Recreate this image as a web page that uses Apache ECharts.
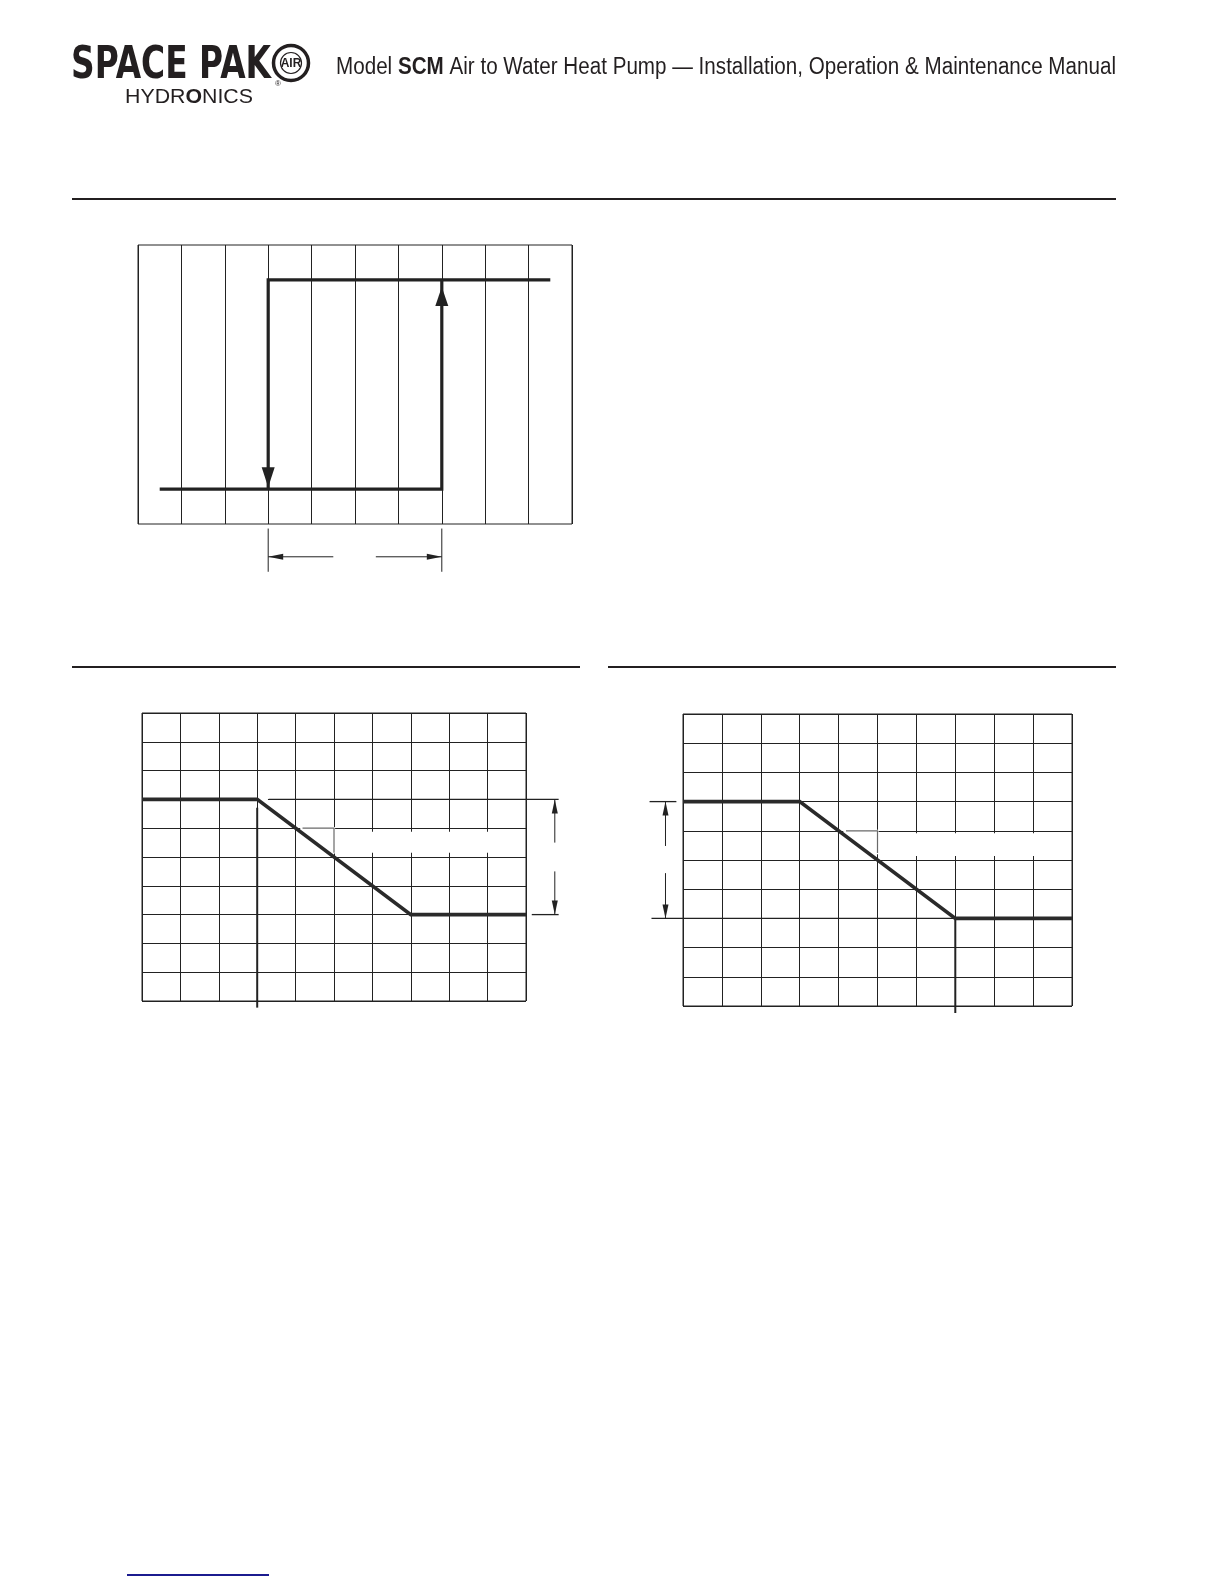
<!DOCTYPE html>
<html><head><meta charset="utf-8">
<script src="https://cdn.jsdelivr.net/npm/echarts@6/dist/echarts.min.js"></script>
<style>html,body{margin:0;padding:0;background:#fff}#c{width:1224px;height:1584px}</style>
</head><body><div id="c"></div>
<script>
// ---------- data ----------
const gridTicks = [0, 1, 2, 3, 4, 5, 6, 7, 8, 9, 10];
const titleLead = 'Model ';
const titleBold = 'SCM';
const titleRest = ' Air to Water Heat Pump \u2014 Installation, Operation & Maintenance Manual';
const logoMain = 'SPACE PAK';
const logoSubA = 'HYDR';
const logoSubB = 'O';
const logoSubC = 'NICS';
const logoBadge = 'AIR';

// hysteresis diagram (x 0..10, y 0..8)
const hystLoopDown = [[9.5, 7], [3, 7], [3, 1]];
const hystLoopUp = [[0.5, 1], [7, 1], [7, 7]];
const hystDimLeft = [[3, -0.13], [3, -1.37]];
const hystDimRight = [[7, -0.13], [7, -1.37]];
const hystArrowLeft = [[4.5, -0.94], [3, -0.94]];
const hystArrowRight = [[5.48, -0.94], [7, -0.94]];

// left slope diagram (x 0..10, y 0..10)
const leftCurve = [[0, 7], [3, 7], [7, 3], [10, 3]];
const leftRefTop = [[3.3, 7], [10.85, 7]];
const leftRefBottom = [[10.15, 3], [10.85, 3]];
const leftDimUp = [[10.75, 5.5], [10.75, 7]];
const leftDimDown = [[10.75, 4.5], [10.75, 3]];
const leftMarker = [[3, 6.71], [3, -0.23]];
const leftSlope = [[4.18, 6], [5, 6], [5, 5.15]];
const leftBand = [[5.3, 5.88], [9.8, 5.15]];

// right slope diagram (x 0..10, y 0..10)
const rightCurve = [[0, 7], [3, 7], [7, 3], [10, 3]];
const rightRefTop = [[-0.86, 7], [-0.17, 7]];
const rightRefBottom = [[-0.81, 3], [7, 3]];
const rightDimUp = [[-0.45, 5.48], [-0.45, 7]];
const rightDimDown = [[-0.45, 4.55], [-0.45, 3]];
const rightMarker = [[7, 3], [7, -0.24]];
const rightSlope = [[4.19, 6], [5, 6], [5, 5.24]];
const rightBand = [[5.3, 5.92], [9.8, 5.14]];

// ---------- styling helpers ----------
const INK = '#222';
const GREY = '#6a6a6a';
const FONT = '"Liberation Sans", Arial, Helvetica, sans-serif';

function tw(str, font) {
  const c = document.createElement('canvas').getContext('2d');
  c.font = font; return c.measureText(str).width;
}
function axis(gridIndex, min, max, split) {
  return {
    type: 'value', gridIndex, min, max, interval: 1,
    axisLine: { show: false }, axisTick: { show: false }, axisLabel: { show: false },
    splitLine: { show: split, lineStyle: { color: INK, width: 1 } }
  };
}
function head(dir, w, h, gap) {
  gap = gap || 0;
  const m = h / 2 + gap;
  if (dir === 'up') return { size: [w, h], rotate: 0, offset: [0, m] };
  if (dir === 'down') return { size: [w, h], rotate: 180, offset: [0, -m] };
  if (dir === 'left') return { size: [w, h], rotate: 90, offset: [m, 0] };
  return { size: [w, h], rotate: -90, offset: [-m, 0] };
}
// stroke through 'lines' (not clipped to the grid), arrow head as a line-series symbol
function path(grid, data, width, color, z, arrow) {
  const out = [{
    type: 'lines', coordinateSystem: 'cartesian2d', xAxisIndex: grid, yAxisIndex: grid,
    polyline: true, clip: false, silent: true, animation: false, z: z,
    effect: { show: false },
    lineStyle: { color: color, width: width, opacity: 1, curveness: 0, cap: 'butt', join: 'miter' },
    data: [{ coords: data }]
  }];
  if (arrow) {
    const last = data[data.length - 1];
    out.push({
      type: 'line', xAxisIndex: grid, yAxisIndex: grid, clip: false, silent: true, animation: false, z: z + 1,
      symbol: 'none', showSymbol: true, showAllSymbol: true,
      lineStyle: { width: 0, opacity: 0 },
      itemStyle: { color: color, borderWidth: 0 },
      emphasis: { disabled: true },
      data: [{
        value: last, symbol: 'triangle', symbolSize: arrow.size, symbolRotate: arrow.rotate,
        symbolOffset: arrow.offset, symbolKeepAspect: false
      }]
    });
  }
  return out;
}
function band(grid, rect) {
  return [{
    type: 'line', xAxisIndex: grid, yAxisIndex: grid, data: [], silent: true, animation: false, z: 3,
    markArea: {
      silent: true, animation: false,
      itemStyle: { color: '#ffffff', opacity: 1, borderWidth: 0 },
      label: { show: false },
      data: [[{ coord: rect[0] }, { coord: rect[1] }]]
    }
  }];
}

// ---------- header measurements ----------
const TS = 23;
const titleW = tw(titleLead, `${TS}px ${FONT}`) + tw(titleBold, `bold ${TS}px ${FONT}`) + tw(titleRest, `${TS}px ${FONT}`);
const titleScale = 780 / titleW;
const LS = 45;
const logoFont = `bold ${LS}px "DejaVu Sans", sans-serif`;
const logoScale = 200 / tw(logoMain, logoFont);
const HS = 21;
const hydW = tw(logoSubA, `${HS}px ${FONT}`) + tw(logoSubB, `bold ${HS}px ${FONT}`) + tw(logoSubC, `${HS}px ${FONT}`);
const hydScale = 128 / hydW;

const series = [].concat(
  // hysteresis
  path(0, hystLoopDown, 3.2, INK, 6, head('down', 13, 20, 2)),
  path(0, hystLoopUp, 3.2, INK, 6, head('up', 13, 19, 7)),
  path(0, hystDimLeft, 1, INK, 5),
  path(0, hystDimRight, 1, INK, 5),
  path(0, hystArrowLeft, 1, INK, 5, head('left', 6, 15, 0)),
  path(0, hystArrowRight, 1, INK, 5, head('right', 6, 15, 0)),
  // left slope
  band(1, leftBand),
  path(1, [[3.05, 7], [3.28, 7]], 2, '#fff', 4),
  path(1, [[4.12, 6], [5, 6], [5, 5.12]], 2.2, '#fff', 4),
  path(1, leftSlope, 1.2, GREY, 5),
  path(1, leftRefTop, 1.3, INK, 5),
  path(1, leftRefBottom, 1.3, INK, 5),
  path(1, leftDimUp, 1, INK, 5, head('up', 6, 14, 0)),
  path(1, leftDimDown, 1, INK, 5, head('down', 6, 14, 0)),
  path(1, leftMarker, 2, INK, 5),
  path(1, leftCurve, 3.6, '#2a2a2a', 7),
  // right slope
  band(2, rightBand),
  path(2, [[4.12, 6], [5, 6], [5, 5.2]], 2.2, '#fff', 4),
  path(2, rightSlope, 1.2, GREY, 5),
  path(2, rightRefTop, 1.3, INK, 5),
  path(2, rightRefBottom, 1.3, INK, 5),
  path(2, rightDimUp, 1, INK, 5, head('up', 6, 14, 0)),
  path(2, rightDimDown, 1, INK, 5, head('down', 6, 14, 0)),
  path(2, rightMarker, 2, INK, 5),
  path(2, rightCurve, 3.6, '#2a2a2a', 7)
);

const chart = echarts.init(document.getElementById('c'), null, { renderer: 'canvas' });
const option = {
  backgroundColor: '#fff',
  animation: false,
  grid: [
    { left: 138, top: 245, width: 434, height: 279, show: true, borderColor: INK, borderWidth: 1, backgroundColor: 'transparent' },
    { left: 142, top: 713, width: 384, height: 288, show: true, borderColor: INK, borderWidth: 1, backgroundColor: 'transparent' },
    { left: 683, top: 714, width: 389, height: 292, show: true, borderColor: INK, borderWidth: 1, backgroundColor: 'transparent' }
  ],
  xAxis: [
    axis(0, gridTicks[0], gridTicks[10], true),
    axis(1, gridTicks[0], gridTicks[10], true),
    axis(2, gridTicks[0], gridTicks[10], true)
  ],
  yAxis: [
    axis(0, gridTicks[0], gridTicks[8], false),
    axis(1, gridTicks[0], gridTicks[10], true),
    axis(2, gridTicks[0], gridTicks[10], true)
  ],
  series: series,
  graphic: [
    // title
    {
      type: 'text', x: 336, y: 68, scaleX: titleScale, silent: true,
      style: {
        text: titleLead + '{b|' + titleBold + '}' + titleRest,
        font: `${TS}px ${FONT}`, fill: '#231f20',
        align: 'left', verticalAlign: 'middle', textAlign: 'left', textVerticalAlign: 'middle',
        rich: { b: { fontWeight: 'bold', fontSize: TS, fontFamily: FONT, fill: '#231f20' } }
      }
    },
    // logo main
    {
      type: 'text', x: 71, y: 66, scaleX: logoScale, silent: true,
      style: {
        text: logoMain, font: logoFont, fill: '#231f20',
        align: 'left', verticalAlign: 'middle', textAlign: 'left', textVerticalAlign: 'middle'
      }
    },
    // logo sub
    {
      type: 'text', x: 125, y: 97, scaleX: hydScale, silent: true,
      style: {
        text: logoSubA + '{b|' + logoSubB + '}' + logoSubC,
        font: `${HS}px ${FONT}`, fill: '#231f20',
        align: 'left', verticalAlign: 'middle', textAlign: 'left', textVerticalAlign: 'middle',
        rich: { b: { fontWeight: 'bold', fontSize: HS, fontFamily: FONT, fill: '#231f20' } }
      }
    },
    // badge
    { type: 'circle', shape: { cx: 291, cy: 63, r: 17.5 }, silent: true, style: { fill: '#fff', stroke: '#231f20', lineWidth: 3.5 } },
    { type: 'circle', shape: { cx: 291, cy: 63, r: 10.5 }, silent: true, style: { fill: 'none', stroke: '#231f20', lineWidth: 1.2 } },
    {
      type: 'text', x: 291, y: 64, silent: true,
      style: { text: logoBadge, font: `bold 12px ${FONT}`, fill: '#231f20', align: 'center', verticalAlign: 'middle', textAlign: 'center', textVerticalAlign: 'middle' }
    },
    {
      type: 'text', x: 278, y: 84, silent: true,
      style: { text: '\u00ae', font: `8px ${FONT}`, fill: '#231f20', align: 'center', verticalAlign: 'middle', textAlign: 'center', textVerticalAlign: 'middle' }
    },
    // rules
    { type: 'line', silent: true, shape: { x1: 72, y1: 199, x2: 1116, y2: 199 }, style: { stroke: '#231f20', lineWidth: 2 } },
    { type: 'line', silent: true, shape: { x1: 72, y1: 667, x2: 580, y2: 667 }, style: { stroke: '#231f20', lineWidth: 2 } },
    { type: 'line', silent: true, shape: { x1: 608, y1: 667, x2: 1116, y2: 667 }, style: { stroke: '#231f20', lineWidth: 2 } },
    { type: 'line', silent: true, shape: { x1: 127, y1: 1575, x2: 269, y2: 1575 }, style: { stroke: '#1b1b8f', lineWidth: 2 } }
  ]
};
chart.setOption(option);
</script>
</body></html>
